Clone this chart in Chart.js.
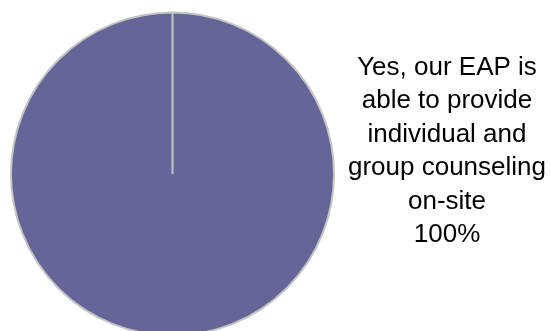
<!DOCTYPE html>
<html>
<head>
<meta charset="utf-8">
<script src="https://cdn.jsdelivr.net/npm/chart.js@4/dist/chart.umd.min.js"></script>
<style>
  html, body { margin: 0; padding: 0; background: #ffffff; overflow: hidden; }
  #wrap { position: absolute; left: 0; top: 0; width: 551px; height: 350px; }
</style>
</head>
<body>
<div id="wrap"><canvas id="chart"></canvas></div>
<script>
// Survey answer shown as a single pie slice
const categories = ['Yes, our EAP is able to provide individual and group counseling on-site'];
const responses = [100];
const sliceColors = ['#656598'];

// Draws the category name (word-wrapped) and its share beside the pie
const sideLabel = {
  id: 'sideLabel',
  afterDatasetsDraw(chart) {
    const ctx = chart.ctx;
    const meta = chart.getDatasetMeta(0);
    const data = chart.data.datasets[0].data;
    const total = data.reduce((a, b) => a + b, 0);
    meta.data.forEach((arc, i) => {
      ctx.save();
      ctx.font = '26px "Liberation Sans", Arial, sans-serif';
      ctx.fillStyle = '#000000';
      ctx.textAlign = 'center';
      ctx.textBaseline = 'alphabetic';
      const words = chart.data.labels[i].split(' ');
      const lines = [];
      let line = '';
      words.forEach(w => {
        const test = line ? line + ' ' + w : w;
        if (ctx.measureText(test).width > 210 && line) {
          lines.push(line);
          line = w;
        } else {
          line = test;
        }
      });
      if (line) lines.push(line);
      lines.push(Math.round(data[i] / total * 100) + '%');
      const cx = arc.x + arc.outerRadius + 113;
      const top = arc.y - 99.5;
      lines.forEach((t, k) => ctx.fillText(t, cx, top + k * 33.5));
      ctx.restore();
    });
  }
};

new Chart(document.getElementById('chart'), {
  type: 'pie',
  data: {
    labels: categories,
    datasets: [{
      data: responses,
      backgroundColor: sliceColors,
      borderColor: '#c4c4c4',
      borderWidth: 2
    }]
  },
  options: {
    responsive: true,
    maintainAspectRatio: false,
    animation: false,
    layout: { padding: { left: 10, top: 11, right: 216, bottom: 13 } },
    plugins: {
      legend: { display: false },
      tooltip: { enabled: false }
    }
  },
  plugins: [sideLabel]
});
</script>
</body>
</html>
